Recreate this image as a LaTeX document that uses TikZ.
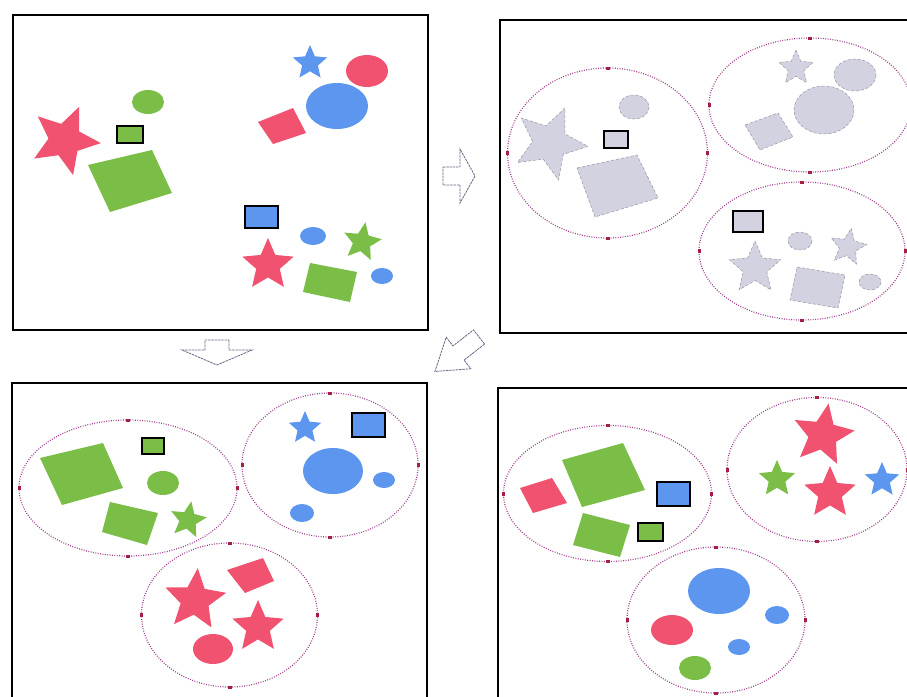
\documentclass[tikz,border=0pt]{standalone}
\definecolor{cred}{RGB}{240,82,112}
\definecolor{cgreen}{RGB}{122,190,72}
\definecolor{cblue}{RGB}{92,150,238}
\definecolor{cgray}{RGB}{210,210,224}
\definecolor{cgrayd}{RGB}{150,150,165}
\definecolor{cgrp}{RGB}{160,60,140}
\definecolor{chandle}{RGB}{165,30,70}
\definecolor{carrow}{RGB}{110,100,135}
\tikzset{
  frame/.style={draw=black, line width=1.4pt},
  grp/.style={draw=cgrp, line width=1.2pt, dash pattern=on 0.9pt off 1.5pt},
  rd/.style={fill=cred},
  gr/.style={fill=cgreen},
  bl/.style={fill=cblue},
  gy/.style={fill=cgray, draw=cgrayd, line width=0.5pt, densely dashed},
  boxo/.style={draw=black, line width=1.3pt},
  barrow/.style={draw=carrow, line width=0.8pt, dash pattern=on 2.5pt off 0.8pt, fill=white},
}
\newcommand\mystar[5]{%
  \begin{scope}[shift={(#1,#2)}]
    \path[#5] (#4:#3) \foreach \k in {0,...,4}{ -- (#4+72*\k:#3) -- (#4+36+72*\k:0.46*#3)} -- cycle;
  \end{scope}}
\newcommand\grpell[4]{%
  \path[grp] (#1,#2) ellipse [x radius=#3, y radius=#4];
  \fill[chandle] (#1-#3-1.5,#2-2) rectangle ++(3,4);
  \fill[chandle] (#1+#3-1.5,#2-2) rectangle ++(3,4);
  \fill[chandle] (#1-2,#2-#4-1.5) rectangle ++(4,3);
  \fill[chandle] (#1-2,#2+#4-1.5) rectangle ++(4,3);}
\newcommand\blockarrow[7]{%
  \begin{scope}[shift={(#1,#2)},rotate=#3]
    \path[barrow] (0,-#6) -- (#5,-#6) -- (#5,-#7) -- (#4,0) -- (#5,#7) -- (#5,#6) -- (0,#6) -- cycle;
  \end{scope}}
\begin{document}
\begin{tikzpicture}[x=1pt,y=-1pt]
\useasboundingbox (0,0) rectangle (907,696);
\clip (0,0) rectangle (907,696);
\fill[white] (0,0) rectangle (907,696);
% ---------- Panel A ----------
\draw[frame] (13,15) rectangle (428,330);
\mystar{310}{63}{18}{-90}{bl}
\path[rd] (367,71) ellipse [x radius=21, y radius=16];
\path[bl] (337,106) ellipse [x radius=31, y radius=23];
\path[rd] (258,122) -- (293,108) -- (306,133) -- (273,144) -- cycle;
\path[gr] (148,102) ellipse [x radius=16, y radius=12];
\mystar{65}{140}{36}{5}{rd}
\path[gr,boxo] (117,126) rectangle (143,143);
\path[gr] (88,165) -- (152,150) -- (172,193) -- (110,212) -- cycle;
\path[bl,boxo] (245,206) rectangle (278,228);
\path[bl] (313,236) ellipse [x radius=13, y radius=9];
\mystar{362}{242}{20}{-80}{gr}
\mystar{268}{265}{27}{-90}{rd}
\path[gr] (310,263) -- (357,272) -- (350,302) -- (303,292) -- cycle;
\path[bl] (382,276) ellipse [x radius=11, y radius=8];
% ---------- Panel B ----------
\draw[frame] (500,20) rectangle (915,333);
\grpell{607.5}{153}{100}{85}
\grpell{810}{105}{101}{67}
\grpell{802}{251}{103}{69}
\path[gy] (634,107) ellipse [x radius=15, y radius=12];
\mystar{550}{143}{38}{5}{gy}
\path[gy] (604,131) rectangle (628,148);
\draw[black, line width=1.3pt] (604,131) rectangle (628,148);
\path[gy] (577,168) -- (637,155) -- (658,198) -- (595,217) -- cycle;
\mystar{796}{68}{18}{-90}{gy}
\path[gy] (855,75) ellipse [x radius=21, y radius=16];
\path[gy] (824,110) ellipse [x radius=30, y radius=24];
\path[gy] (745,125) -- (778,113) -- (793,137) -- (760,150) -- cycle;
\path[gy] (733,211) rectangle (763,232);
\draw[black, line width=1.3pt] (733,211) rectangle (763,232);
\path[gy] (800,241) ellipse [x radius=12, y radius=9];
\mystar{848}{247}{19}{-80}{gy}
\mystar{755}{268}{27}{-90}{gy}
\path[gy] (797,267) -- (845,275) -- (838,308) -- (790,300) -- cycle;
\path[gy] (870,282) ellipse [x radius=11, y radius=8];
% ---------- Panel C ----------
\draw[frame] (12,383) rectangle (427,705);
\grpell{128}{488}{109}{68}
\grpell{330}{465}{88}{72}
\grpell{229.5}{615}{88}{72}
\path[gr] (40,458) -- (103,443) -- (123,488) -- (62,505) -- cycle;
\path[gr,boxo] (142,438) rectangle (164,454);
\path[gr] (163,483) ellipse [x radius=16, y radius=12];
\path[gr] (110,502) -- (158,513) -- (147,545) -- (102,532) -- cycle;
\mystar{188}{520}{19}{-80}{gr}
\mystar{305}{428}{17}{-90}{bl}
\path[bl,boxo] (352,413) rectangle (385,437);
\path[bl] (333,471) ellipse [x radius=30, y radius=23];
\path[bl] (384,480) ellipse [x radius=11, y radius=8];
\path[bl] (302,513) ellipse [x radius=12, y radius=9];
\path[rd] (227,570) -- (263,558) -- (274,581) -- (245,593) -- cycle;
\mystar{195}{600}{32}{-85}{rd}
\mystar{258}{627}{27}{-90}{rd}
\path[rd] (213,649) ellipse [x radius=20, y radius=15];
% ---------- Panel D ----------
\draw[frame] (498,388) rectangle (915,705);
\grpell{607.5}{493.5}{104}{68}
\grpell{817}{469.5}{90}{72}
\grpell{716}{620}{89}{73}
\path[rd] (520,488) -- (552,478) -- (567,503) -- (533,513) -- cycle;
\path[gr] (562,460) -- (623,443) -- (645,490) -- (582,507) -- cycle;
\path[bl,boxo] (657,482) rectangle (690,506);
\path[gr] (583,513) -- (630,525) -- (620,557) -- (573,545) -- cycle;
\path[gr,boxo] (638,523) rectangle (663,541);
\mystar{823}{435}{32}{-80}{rd}
\mystar{777}{479}{19}{-90}{gr}
\mystar{830}{493}{27}{-90}{rd}
\mystar{882}{480}{18}{-90}{bl}
\path[bl] (719,591) ellipse [x radius=31, y radius=23];
\path[bl] (777,615) ellipse [x radius=12, y radius=9];
\path[rd] (672,630) ellipse [x radius=21, y radius=15];
\path[bl] (739,647) ellipse [x radius=11, y radius=8];
\path[gr] (695,668) ellipse [x radius=16, y radius=12];
% ---------- Arrows ----------
\blockarrow{443}{176}{0}{32}{17}{9}{27}
\blockarrow{217}{340}{-90}{25}{10}{12}{35}
\blockarrow{479}{337}{218}{56}{26}{9}{20}
\end{tikzpicture}
\end{document}
